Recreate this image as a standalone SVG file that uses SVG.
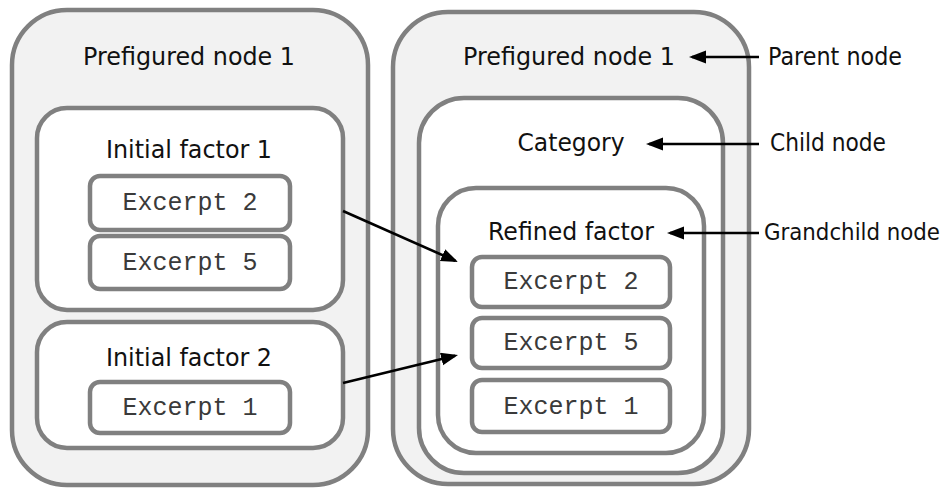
<svg xmlns="http://www.w3.org/2000/svg" width="947" height="488" viewBox="0 0 947 488">
  <style>
    .outer { fill: #f2f2f2; stroke: #808080; stroke-width: 4.5; }
    .box { fill: #ffffff; stroke: #808080; stroke-width: 4.5; }
    .title { font-family: "DejaVu Sans", Verdana, sans-serif; font-size: 24.5px; fill: #111111; text-anchor: middle; }
    .label { font-family: "DejaVu Sans", Verdana, sans-serif; font-size: 24.5px; fill: #111111; }
    .label.long { font-family: "DejaVu Sans Condensed", "DejaVu Sans", sans-serif; font-stretch: condensed; font-size: 23.5px; }
    .mono { font-family: "Liberation Mono", "Courier New", monospace; font-size: 25px; fill: #3a3a3a; text-anchor: middle; }
    .arrow { stroke: #000000; stroke-width: 2.6; fill: none; marker-end: url(#head); }
  </style>
  <defs>
    <marker id="head" markerUnits="userSpaceOnUse" markerWidth="18" markerHeight="14" refX="14" refY="6.5" orient="auto">
      <path d="M0,0 L17,6.5 L0,13 z" fill="#000000"/>
    </marker>
  </defs>

  <!-- Left parent node -->
  <g id="left-parent">
    <rect class="outer" x="12" y="10" width="356" height="475" rx="55"/>
    <text class="title" x="189" y="65" textLength="212" lengthAdjust="spacingAndGlyphs">Prefigured node 1</text>
  </g>
  <g id="initial-factor-1">
    <rect class="box" x="37" y="108" width="306" height="202" rx="30"/>
    <text class="title" x="189" y="158" textLength="166" lengthAdjust="spacingAndGlyphs">Initial factor 1</text>
  </g>
  <g id="left-excerpt-2">
    <rect class="box" x="90" y="176" width="200" height="54" rx="10"/>
    <text class="mono" x="190" y="210">Excerpt 2</text>
  </g>
  <g id="left-excerpt-5">
    <rect class="box" x="90" y="236" width="200" height="53" rx="10"/>
    <text class="mono" x="190" y="270">Excerpt 5</text>
  </g>
  <g id="initial-factor-2">
    <rect class="box" x="37" y="322" width="306" height="126" rx="30"/>
    <text class="title" x="189" y="366" textLength="166" lengthAdjust="spacingAndGlyphs">Initial factor 2</text>
  </g>
  <g id="left-excerpt-1">
    <rect class="box" x="90" y="382" width="200" height="51" rx="10"/>
    <text class="mono" x="190" y="415">Excerpt 1</text>
  </g>

  <!-- Right parent node with nested child and grandchild -->
  <g id="right-parent">
    <rect class="outer" x="393" y="12" width="356" height="472" rx="55"/>
    <text class="title" x="569" y="65" textLength="212" lengthAdjust="spacingAndGlyphs">Prefigured node 1</text>
  </g>
  <g id="category">
    <rect class="box" x="419" y="98" width="304" height="375" rx="45"/>
    <text class="title" x="571" y="151" textLength="107" lengthAdjust="spacingAndGlyphs">Category</text>
  </g>
  <g id="refined-factor">
    <rect class="box" x="438" y="188" width="266" height="265" rx="38"/>
    <text class="title" x="571" y="240" textLength="166" lengthAdjust="spacingAndGlyphs">Refined factor</text>
  </g>
  <g id="right-excerpt-2">
    <rect class="box" x="472" y="257" width="198" height="50" rx="10"/>
    <text class="mono" x="571" y="289">Excerpt 2</text>
  </g>
  <g id="right-excerpt-5">
    <rect class="box" x="472" y="318" width="198" height="50" rx="10"/>
    <text class="mono" x="571" y="350">Excerpt 5</text>
  </g>
  <g id="right-excerpt-1">
    <rect class="box" x="472" y="380" width="198" height="52" rx="10"/>
    <text class="mono" x="571" y="414">Excerpt 1</text>
  </g>

  <!-- Legend labels -->
  <g id="legend-parent">
    <text class="label" x="768" y="65" textLength="134" lengthAdjust="spacingAndGlyphs">Parent node</text>
  </g>
  <g id="legend-child">
    <text class="label" x="770" y="151" textLength="116" lengthAdjust="spacingAndGlyphs">Child node</text>
  </g>
  <g id="legend-grandchild">
    <text class="label long" x="764" y="240" textLength="176" lengthAdjust="spacingAndGlyphs">Grandchild node</text>
  </g>

  <!-- Connectors -->
  <g id="connectors">
    <line class="arrow" x1="343" y1="211" x2="455.3" y2="260.8"/>
    <line class="arrow" x1="343" y1="383" x2="455.1" y2="355.7"/>
    <line class="arrow" x1="759" y1="57" x2="692" y2="57"/>
    <line class="arrow" x1="759" y1="144" x2="649" y2="144"/>
    <line class="arrow" x1="759" y1="233" x2="670" y2="233"/>
  </g>
</svg>
